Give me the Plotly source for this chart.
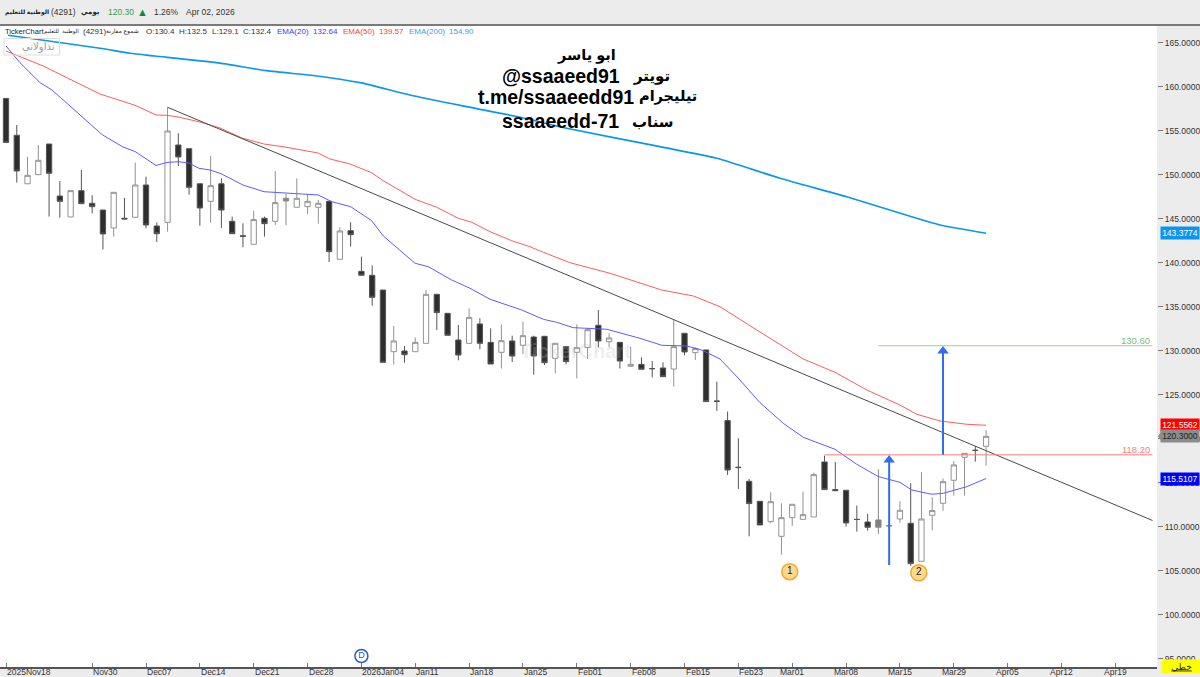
import plotly.graph_objects as go

# bars, oldest first
bar_open = [158.7, 154.51, 149.0, 150.04, 153.52, 147.61, 145.23, 148.22, 146.78, 146.02,
            143.98, 145.08, 145.19, 148.86, 144.2, 144.62, 153.41, 152.99, 149.0, 147.01,
            149.0, 144.74, 143.1, 142.12, 145.08, 144.74, 147.35, 146.33, 146.4, 146.33,
            147.01, 140.42, 143.67, 139.05, 138.6, 136.93, 129.92, 130.0, 129.92, 130.87,
            136.44, 134.28, 131.25, 130.87, 133.07, 130.98, 129.85, 131.14, 130.64, 131.59,
            131.67, 129.17, 130.49, 129.85, 130.38, 132.92, 131.06, 130.98, 128.26, 128.48,
            128.0, 128.07, 127.95, 132.01, 129.81, 130.12, 124.32, 122.09, 116.8, 115.19,
            112.92, 110.61, 108.94, 111.06, 110.87, 111.14, 117.39, 114.25, 114.17, 110.87,
            110.57, 110.8, 110.15, 110.91, 110.42, 106.1, 111.33, 112.69, 115.31, 117.92,
            118.72, 119.17]
bar_high = [158.7, 155.68, 152.08, 153.41, 153.52, 149.32, 148.22, 150.57, 147.69, 146.02,
            148.03, 147.39, 151.4, 149.81, 144.62, 157.69, 154.74, 152.99, 149.0, 152.16,
            149.62, 145.27, 144.51, 145.95, 145.27, 150.46, 147.84, 149.62, 147.84, 147.16,
            147.01, 144.05, 144.63, 140.72, 139.73, 136.93, 132.84, 130.57, 131.55, 136.93,
            136.44, 134.28, 132.95, 134.85, 133.71, 132.57, 133.03, 131.74, 133.33, 131.74,
            131.67, 130.87, 130.57, 133.03, 132.57, 134.66, 132.0, 130.98, 130.49, 129.28,
            128.86, 128.71, 133.52, 132.01, 130.42, 130.12, 126.52, 123.11, 120.08, 115.46,
            112.92, 113.94, 112.69, 112.58, 114.02, 116.18, 118.11, 117.39, 114.17, 112.43,
            111.48, 116.56, 110.3, 112.92, 114.97, 116.22, 113.38, 115.53, 117.5, 118.37,
            119.17, 120.99]
bar_low = [153.7, 149.13, 149.0, 150.04, 145.27, 145.15, 145.23, 146.74, 145.64, 141.55,
           143.0, 145.0, 145.19, 143.94, 142.39, 143.56, 151.02, 147.77, 144.24, 144.58,
           143.98, 143.33, 141.78, 142.12, 143.0, 144.32, 144.32, 146.33, 145.57, 144.47,
           140.11, 140.42, 141.87, 138.6, 135.15, 128.71, 128.45, 128.67, 129.92, 130.87,
           132.39, 131.78, 128.94, 130.87, 130.19, 128.52, 128.0, 128.75, 129.66, 127.31,
           128.4, 127.46, 128.48, 126.89, 129.09, 130.42, 130.42, 128.0, 128.26, 127.92,
           127.0, 127.08, 125.95, 129.51, 128.98, 124.25, 123.19, 115.91, 114.32, 108.94,
           110.23, 110.42, 106.86, 110.12, 110.87, 111.14, 114.25, 114.13, 110.04, 109.47,
           109.59, 109.21, 110.0, 110.5, 105.57, 106.1, 109.63, 111.82, 113.56, 113.56,
           117.43, 116.97]
bar_close = [153.7, 150.46, 149.96, 151.67, 150.19, 147.01, 148.22, 146.74, 146.40, 143.30,
             148.03, 145.0, 148.86, 144.32, 143.33, 155.0, 152.05, 148.6, 146.25, 148.79,
             146.02, 143.33, 143.03, 144.93, 144.47, 146.86, 147.05, 147.35, 147.01, 146.78,
             141.29, 143.64, 143.22, 138.6, 136.1, 128.71, 131.14, 129.58, 130.98, 136.44,
             134.36, 131.78, 129.54, 133.82, 130.87, 128.52, 131.17, 129.43, 131.74, 129.43,
             128.67, 130.87, 128.79, 130.38, 132.42, 131.14, 131.48, 128.86, 128.48, 127.92,
             127.99, 127.08, 130.49, 129.89, 130.27, 124.25, 124.28, 116.48, 116.75, 112.66,
             110.23, 112.88, 111.06, 112.58, 111.4, 115.95, 114.25, 114.13, 110.46, 110.85,
             109.97, 109.97, 110.13, 111.9, 105.84, 110.91, 111.86, 115.15, 117.05, 118.37,
             118.7, 120.3]
grey_bars = [26, 81, 82]

ema20_x = [0, 1.3, 3.16, 4.27, 5.94, 8.91, 10.86, 11.98, 13.93, 14.95, 15.97, 16.99, 17.92,
           18.94, 19.96, 22, 23.96, 27.95, 28.97, 30.24, 32, 33.95, 35.03, 37.98, 39.21,
           41.38, 43.08, 44.94, 47.88, 49.89, 51.13, 52.67, 55.78, 58.87, 60.88, 63.2, 64.6,
           66.3, 68.15, 70, 72.17, 74.03, 76.97, 78.99, 81, 83, 84.1, 85.95, 87.03, 89.2, 91]
ema20_y = [164.66, 162.76, 160.49, 159.66, 157.84, 154.6, 153.18, 152.67, 151.08, 151.42,
           151.51, 151.36, 150.76, 150.57, 150.15, 148.86, 148.1, 147.84, 147.73, 146.97,
           146.4, 144.81, 143.07, 139.97, 139.58, 138.07, 137.13, 135.88, 134.66, 133.6,
           133.26, 132.65, 132.47, 131.44, 130.65, 130.57, 130.11, 129.09, 126.7, 124.13,
           121.78, 120.19, 118.83, 117.13, 115.72, 115.08, 114.2, 113.72, 113.83, 114.58,
           115.51]
ema50_x = [0, 3.44, 8.73, 11.05, 11.98, 13.93, 14.95, 15.97, 18.01, 19.87, 21.91, 23.96, 25.9,
           28.97, 30.08, 31.94, 33.95, 35.03, 37.98, 39.99, 42, 43.24, 44.94, 46.96, 48.65,
           49.89, 52.37, 56.08, 60.88, 63.82, 66.3, 69.7, 74.03, 76.97, 79.92, 83, 84.56,
           86.72, 89.2, 91]
ema50_y = [164.09, 162.39, 159.2, 158.26, 157.92, 156.82, 156.78, 156.59, 156.02, 155.34,
           154.2, 153.52, 153.18, 152.5, 151.82, 151.25, 150.26, 149.35, 147.24, 146.33,
           145.08, 144.63, 143.56, 142.53, 141.85, 141.22, 140.03, 138.83, 136.93, 136.25,
           135.03, 132.39, 129.09, 127.58, 125.57, 123.86, 122.81, 122.05, 121.67, 121.56]
ema200_x = [0.19, 8.73, 11.51, 13.83, 19.56, 24.2, 28.85, 32.87, 37.51, 42.78, 47.73, 52.06,
            60.72, 65.99, 71.87, 78.06, 84.25, 86.72, 91]
ema200_y = [165.88, 164.4, 163.83, 163.52, 162.76, 161.85, 161.25, 160.49, 159.09, 157.76,
            156.56, 155.31, 153.22, 151.9, 149.63, 147.53, 145.19, 144.32, 143.38]

trend_x = [15, 106.45]
trend_y = [157.69, 110.74]
level_red = 118.2
level_green = 130.6

date_ticks = [0, 8, 13, 18, 23, 28, 33, 38, 43, 48, 53, 58, 63, 68, 73, 78, 83, 88, 93, 98, 103]
date_labels = ['2025Nov18', 'Nov30', 'Dec07', 'Dec14', 'Dec21', 'Dec28', '2026Jan04', 'Jan11',
               'Jan18', 'Jan25', 'Feb01', 'Feb08', 'Feb15', 'Feb23', 'Mar01', 'Mar08', 'Mar15',
               'Mar29', 'Apr05', 'Apr12', 'Apr19']
price_ticks = [165, 160, 155, 150, 145, 140, 135, 130, 125, 120, 115, 110, 105, 100, 95]

FONT = 'Liberation Sans, DejaVu Sans, sans-serif'


def px(x):
    return x / 1157


def py(y):
    return (667 - y) / 641


def label(x, y, text, size=8.5, color='#333333', anchor='left', bold=False):
    if bold:
        text = '<b>' + text + '</b>'
    return dict(x=px(x), y=py(y), xref='paper', yref='paper', text=text, showarrow=False,
                xanchor=anchor, yanchor='middle', borderpad=0,
                font=dict(family=FONT, size=size, color=color))


def tag(price, text, bg, color='white'):
    return dict(x=px(1200), y=price, xref='paper', yref='y', text=text, showarrow=False,
                xanchor='right', yanchor='middle', width=38, height=12, bgcolor=bg, borderpad=0,
                font=dict(family=FONT, size=8.5, color=color))


fig = go.Figure()

idx_all = list(range(len(bar_open)))
idx_main = [i for i in idx_all if i not in grey_bars]


def candles(idx, up_line, down_line, down_fill):
    return go.Candlestick(
        x=idx,
        open=[bar_open[i] for i in idx], high=[bar_high[i] for i in idx],
        low=[bar_low[i] for i in idx], close=[bar_close[i] for i in idx],
        whiskerwidth=0, showlegend=False, hoverinfo='skip',
        increasing=dict(line=dict(color=up_line, width=1), fillcolor='white'),
        decreasing=dict(line=dict(color=down_line, width=1), fillcolor=down_fill))


fig.add_trace(candles(idx_main, '#939393', '#555555', '#2e2e2e'))
fig.add_trace(candles(grey_bars, '#8a8a8a', '#8a8a8a', '#808080'))

fig.add_trace(go.Scatter(x=ema20_x, y=ema20_y, mode='lines', line=dict(color='#5c5cff', width=1)))
fig.add_trace(go.Scatter(x=ema50_x, y=ema50_y, mode='lines', line=dict(color='#ff5c5c', width=1)))
fig.add_trace(go.Scatter(x=ema200_x, y=ema200_y, mode='lines',
                         line=dict(color='#0a96f0', width=1.7, shape='spline', smoothing=0.6)))
fig.add_trace(go.Scatter(x=trend_x, y=trend_y, mode='lines', line=dict(color='#4a4a4a', width=1)))
fig.add_trace(go.Scatter(x=[76, 106.45], y=[level_red, level_red], mode='lines',
                         line=dict(color='#ff7d7d', width=1)))
fig.add_trace(go.Scatter(x=[81, 106.45], y=[level_green, level_green], mode='lines',
                         line=dict(color='#93d393', width=1)))

# the two blue arrows
fig.add_trace(go.Scatter(x=[82, 82], y=[105.68, 117.6], mode='lines',
                         line=dict(color='#2f6df6', width=2)))
fig.add_trace(go.Scatter(x=[87, 87], y=[level_red, 130.0], mode='lines',
                         line=dict(color='#2f6df6', width=2)))
fig.add_trace(go.Scatter(x=[82, 87], y=[117.6, 130.0], mode='markers',
                         marker=dict(symbol='triangle-up', size=10, color='#2f6df6')))

# numbered wave points and the D flag
fig.add_trace(go.Scatter(x=[72.77, 84.75], y=[104.92, 104.8], mode='markers+text', text=['1', '2'],
                         textposition='middle center', textfont=dict(family=FONT, size=10, color='#222222'),
                         marker=dict(size=16, color='#ffd98e', line=dict(color='#f5a623', width=1.5))))
fig.add_trace(go.Scatter(x=[33], y=[95.34], mode='markers+text', text=['D'],
                         textposition='middle center', textfont=dict(family=FONT, size=9, color='#2a5bd7'),
                         marker=dict(size=13, color='white', line=dict(color='#2a5bd7', width=1.5))))

notes = []
# watermark and logo
notes.append(label(575, 351, 'TickerChart', size=20, color='rgba(190,190,190,0.25)', anchor='center', bold=True))
notes.append(label(56, 47, 'تداولاتي', size=10, color='#9a9a9a', anchor='right'))

# top bar
notes.append(label(26.5, 12, 'الوطنية للتعليم', size=6, color='#222222', anchor='center', bold=True))
notes.append(label(50, 12, '(4291)', size=8.5))
notes.append(label(90, 12, 'يومي', size=7, color='#222222', anchor='center', bold=True))
notes.append(label(107, 12, '120.30', size=8.5, color='#3f9a3f'))
notes.append(label(142, 12, '▲', size=11, color='#0f8a3c', anchor='center'))
notes.append(label(153, 12, '1.26%', size=8.5))
notes.append(label(185, 12, 'Apr 02, 2026', size=8.5))

# legend row
notes.append(label(4, 31, 'TickerChart', size=7.5, color='#222222'))
notes.append(label(61, 31, 'الوطنية  للتعليم', size=5.5, color='#222222', anchor='center'))
notes.append(label(82, 31, '(4291)', size=8))
notes.append(label(122, 31, 'شموع مقارنة', size=6, color='#222222', anchor='center'))
notes.append(label(145, 31, 'O:130.4', size=8))
notes.append(label(178, 31, 'H:132.5', size=8))
notes.append(label(211, 31, 'L:129.1', size=8))
notes.append(label(242, 31, 'C:132.4', size=8))
notes.append(label(276, 31, 'EMA(20)', size=8, color='#3c3cff'))
notes.append(label(312, 31, '132.64', size=8, color='#3c3cff'))
notes.append(label(342, 31, 'EMA(50)', size=8, color='#ff3c3c'))
notes.append(label(378, 31, '139.57', size=8, color='#ff3c3c'))
notes.append(label(408, 31, 'EMA(200)', size=8, color='#3c9cf0'))
notes.append(label(448, 31, '154.90', size=8, color='#3c9cf0'))

# contact block
notes.append(label(586, 55, 'ابو ياسر', size=14.5, color='black', anchor='center', bold=True))
notes.append(label(621, 76, '@ssaaeed91', size=19.5, color='black', anchor='right', bold=True))
notes.append(label(652, 76, 'تويتر', size=15, color='black', anchor='center', bold=True))
notes.append(label(635, 97, 't.me/ssaaeedd91', size=19.5, color='black', anchor='right', bold=True))
notes.append(label(668, 97, 'تيليجرام', size=14.5, color='black', anchor='center', bold=True))
notes.append(label(620, 121, 'ssaaeedd-71', size=19.5, color='black', anchor='right', bold=True))
notes.append(label(653, 121, 'سناب', size=15, color='black', anchor='center', bold=True))

# level labels
notes.append(label(1151, 340, '130.60', size=9.5, color='#78c078', anchor='right'))
notes.append(label(1151, 449.5, '118.20', size=9.5, color='#ff7d7d', anchor='right'))

# date labels: the early ones start at their tick, the later ones sit centred on it
for i, (pos, text) in enumerate(zip(date_ticks, date_labels)):
    notes.append(dict(x=pos, y=0, xref='x', yref='paper', text=text, showarrow=False,
                      xanchor='left' if i < 14 else 'center', yanchor='top', yshift=1, borderpad=0,
                      font=dict(family=FONT, size=8.5, color='#333333')))

# price tags on the right
notes.append(tag(143.3774, '143.3774', '#0a96f0'))
notes.append(tag(121.5562, '121.5562', '#ff0000'))
notes.append(tag(120.3, '120.3000', '#8c8c8c', color='#1f1f1f'))
notes.append(tag(115.5107, '115.5107', '#0000ff'))
notes.append(dict(x=px(1181), y=py(666.5), xref='paper', yref='paper', text='<u>خطي</u>', showarrow=False,
                  xanchor='center', yanchor='middle', width=39, height=13, bgcolor='#ffff00', borderpad=0,
                  font=dict(family=FONT, size=9, color='#222222')))

shapes = [
    dict(type='line', xref='paper', yref='paper', x0=0, x1=px(1200), y0=py(25), y1=py(25),
         line=dict(color='#555555', width=1.5)),
    dict(type='rect', xref='paper', yref='paper', x0=px(4), x1=px(59.5), y0=py(38.5), y1=py(55),
         line=dict(color='#dddddd', width=1)),
    # left-pointing notch of the last-price tag
    dict(type='path', xref='paper', yref='y', fillcolor='#8c8c8c', line=dict(width=0),
         path=f'M {px(1158)} 120.3 L {px(1162)} 120.98 L {px(1162)} 119.62 Z'),
]

fig.update_layout(
    width=1200, height=677,
    margin=dict(l=0, r=43, t=26, b=10, autoexpand=False),
    paper_bgcolor='#ececec', plot_bgcolor='white',
    showlegend=False, boxgap=0.3,
    annotations=notes, shapes=shapes,
    xaxis=dict(range=[-0.557, 106.87], tickmode='array', tickvals=date_ticks, showticklabels=False,
               ticks='inside', ticklen=4, tickcolor='#777777', showgrid=False, zeroline=False,
               showline=True, linecolor='#555555', linewidth=1.5, rangeslider=dict(visible=False)),
    yaxis=dict(range=[94.09, 166.93], side='right', tickmode='array', tickvals=price_ticks,
               ticktext=[f'{v}.0000' for v in price_ticks], ticks='outside', ticklen=5, tickcolor='#777777',
               showgrid=False, zeroline=False, tickfont=dict(family=FONT, size=8.5, color='#333333')),
)

# the page's default body margin would push the chart out of the window
fig.write_html("out.html", config=dict(displayModeBar=False),
               post_script="document.body.style.margin='0';document.documentElement.style.overflow='hidden'")
